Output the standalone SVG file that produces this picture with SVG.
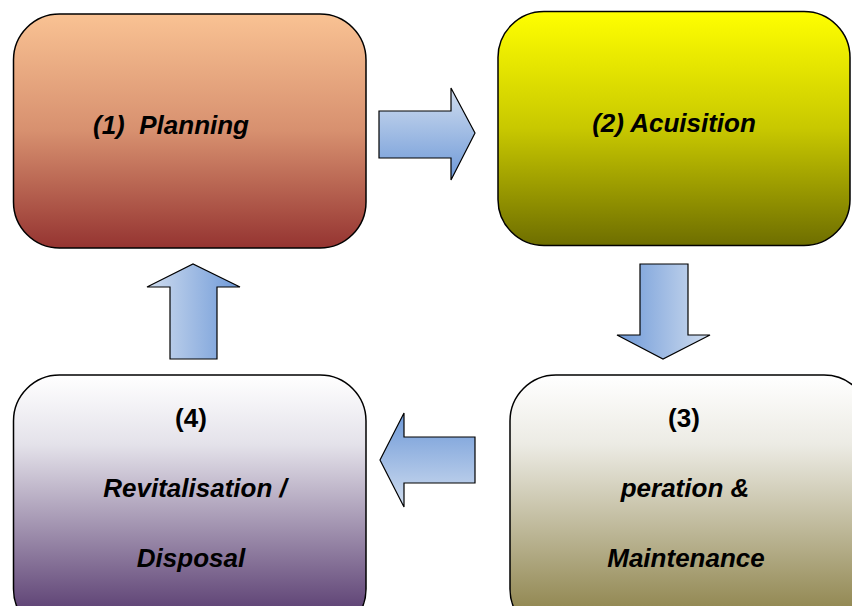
<svg xmlns="http://www.w3.org/2000/svg" width="852" height="606" viewBox="0 0 852 606">
<defs>
<linearGradient id="g1" x1="0" y1="0" x2="0" y2="1"><stop offset="0" stop-color="#f9c293"/><stop offset="0.5" stop-color="#d7906f"/><stop offset="1" stop-color="#953431"/></linearGradient>
<linearGradient id="g2" x1="0" y1="0" x2="0" y2="1"><stop offset="0" stop-color="#ffff00"/><stop offset="0.5" stop-color="#c8c800"/><stop offset="1" stop-color="#6e6e00"/></linearGradient>
<linearGradient id="g3" gradientUnits="userSpaceOnUse" x1="0" y1="375" x2="0" y2="606"><stop offset="0" stop-color="#ffffff"/><stop offset="0.3" stop-color="#ecebe4"/><stop offset="1" stop-color="#948a55"/></linearGradient>
<linearGradient id="g4" gradientUnits="userSpaceOnUse" x1="0" y1="375" x2="0" y2="606"><stop offset="0" stop-color="#ffffff"/><stop offset="0.3" stop-color="#e4e2ea"/><stop offset="1" stop-color="#624778"/></linearGradient>
<linearGradient id="aR" x1="0" y1="0" x2="0" y2="1"><stop offset="0" stop-color="#d0ddef"/><stop offset="1" stop-color="#6e99d8"/></linearGradient>
<linearGradient id="aL" x1="0" y1="0" x2="0" y2="1"><stop offset="0" stop-color="#6e99d8"/><stop offset="1" stop-color="#d0ddef"/></linearGradient>
<linearGradient id="aD" x1="0" y1="0" x2="1" y2="0"><stop offset="0" stop-color="#6e99d8"/><stop offset="1" stop-color="#d0ddef"/></linearGradient>
<linearGradient id="aU" x1="0" y1="0" x2="1" y2="0"><stop offset="0" stop-color="#d0ddef"/><stop offset="1" stop-color="#6e99d8"/></linearGradient>
</defs>
<style>
.box{stroke:#000;stroke-width:1.5}
.arr{stroke:#000;stroke-width:1.2;stroke-linejoin:miter}
text{font-family:"Liberation Sans",Arial,sans-serif;font-weight:bold;font-size:26px;fill:#000;text-anchor:middle}
.it{font-style:italic}
</style>
<g id="connectors">
<polygon class="arr" fill="url(#aR)" points="379,111 451,111 451,88 475,133 451,180 451,158 379,158"/>
<polygon class="arr" fill="url(#aD)" points="640,264 688,264 688,335 710,335 663,359 617,335 640,335"/>
<polygon class="arr" fill="url(#aL)" points="475,437 404,437 404,413 380,460 404,507 404,483 475,483"/>
<polygon class="arr" fill="url(#aU)" points="170,359 170,287 147,287 193,264 240,287 217,287 217,359"/>
</g>
<g id="node1">
<rect class="box" x="13.5" y="14" width="352.5" height="234" rx="46" fill="url(#g1)"/>
<text class="it" x="171" y="134" xml:space="preserve">(1)  Planning</text>
</g>
<g id="node2">
<rect class="box" x="498" y="11.5" width="352" height="234" rx="46" fill="url(#g2)"/>
<text class="it" x="674" y="132">(2) Acuisition</text>
</g>
<g id="node3">
<rect class="box" x="510" y="375" width="360" height="260" rx="46" fill="url(#g3)"/>
<text x="684" y="427">(3)</text>
<text class="it" x="685" y="497">peration &amp;</text>
<text class="it" x="686" y="567">Maintenance</text>
</g>
<g id="node4">
<rect class="box" x="13.5" y="375" width="352.5" height="260" rx="46" fill="url(#g4)"/>
<text x="191" y="427">(4)</text>
<text class="it" x="195" y="497">Revitalisation /</text>
<text class="it" x="191" y="567">Disposal</text>
</g>
</svg>
